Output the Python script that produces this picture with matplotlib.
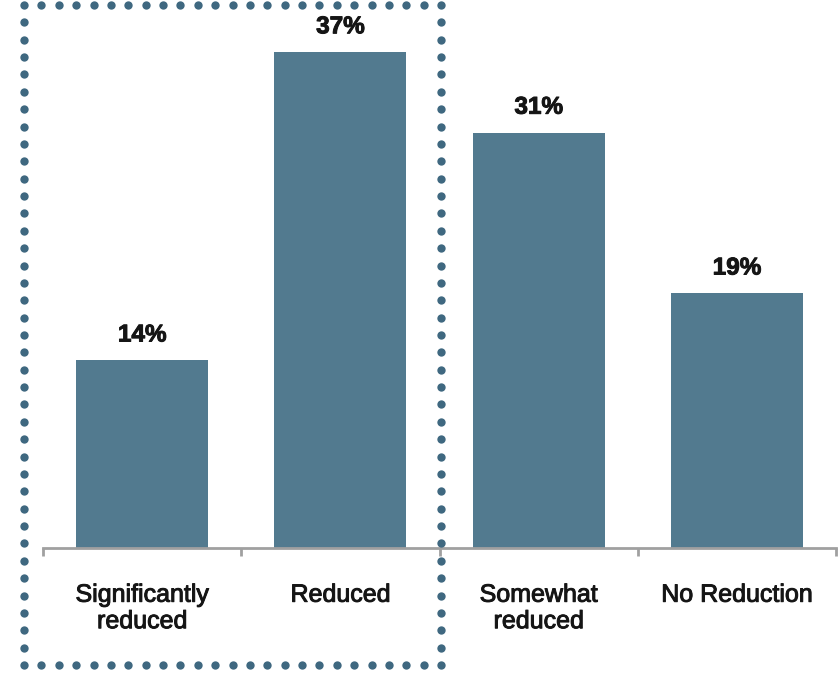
import matplotlib
matplotlib.use("Agg")
import matplotlib.pyplot as plt
from matplotlib.lines import Line2D
import matplotlib.patheffects as pe
import numpy as np

categories = ["Significantly\nreduced", "Reduced", "Somewhat\nreduced", "No Reduction"]
values = [14, 37, 31, 19]
value_labels = ["14%", "37%", "31%", "19%"]

bar_color = "#527a8f"
frame_color = "#3f6880"
text_color = "#151515"

fig = plt.figure(figsize=(8.38, 6.75), dpi=100)
W, H = 838, 675
ax = fig.add_axes([43 / W, (H - 548) / H, 793 / W, 536 / H])

x = [i + 0.5 for i in range(len(values))]
ax.bar(x, values, width=0.667, color=bar_color, zorder=2)
ax.set_xlim(0, len(values))
ax.set_ylim(0, 40)

thicken = [pe.withStroke(linewidth=0.7, foreground=text_color)]

for xi, v, lab in zip(x, values, value_labels):
    ax.annotate(lab, (xi, v), xytext=(0, 10), textcoords="offset points",
                ha="center", va="bottom", fontsize=17.5, fontweight="bold",
                family="Liberation Sans", color=text_color,
                path_effects=thicken)

for s in ["top", "right", "left"]:
    ax.spines[s].set_visible(False)
ax.spines["bottom"].set_color("#a0a0a0")
ax.spines["bottom"].set_linewidth(2)
ax.set_yticks([])
ax.set_xticks(range(len(values) + 1))
ax.set_xticklabels([])
ax.tick_params(axis="x", length=6, width=2, color="#a0a0a0", direction="out")

for xi, cat in zip(x, categories):
    ax.annotate(cat, (xi, 0), xytext=(0, -25), textcoords="offset points",
                ha="center", va="top", fontsize=18,
                family="Liberation Sans", color=text_color, linespacing=1.13,
                path_effects=thicken)

# dotted frame around the first two categories, built from evenly spaced dots
left, right, top, bottom = 24, 441, 5, 665
step = 17.4


def edge(p0, p1):
    n = max(1, int(round(np.hypot(p1[0] - p0[0], p1[1] - p0[1]) / step)))
    t = np.arange(n) / n
    return p0[0] + (p1[0] - p0[0]) * t, p0[1] + (p1[1] - p0[1]) * t


corners = [(left, top), (right, top), (right, bottom), (left, bottom), (left, top)]
px, py = [], []
for a, b in zip(corners[:-1], corners[1:]):
    ex, ey = edge(a, b)
    px.extend(ex)
    py.extend(ey)
px = np.array(px) / W
py = 1 - np.array(py) / H
frame = Line2D(px, py, transform=fig.transFigure, linestyle="none",
               marker="o", markersize=6, markeredgewidth=0,
               markerfacecolor=frame_color)
fig.add_artist(frame)

fig.savefig("out.png", dpi=100, facecolor="white")
